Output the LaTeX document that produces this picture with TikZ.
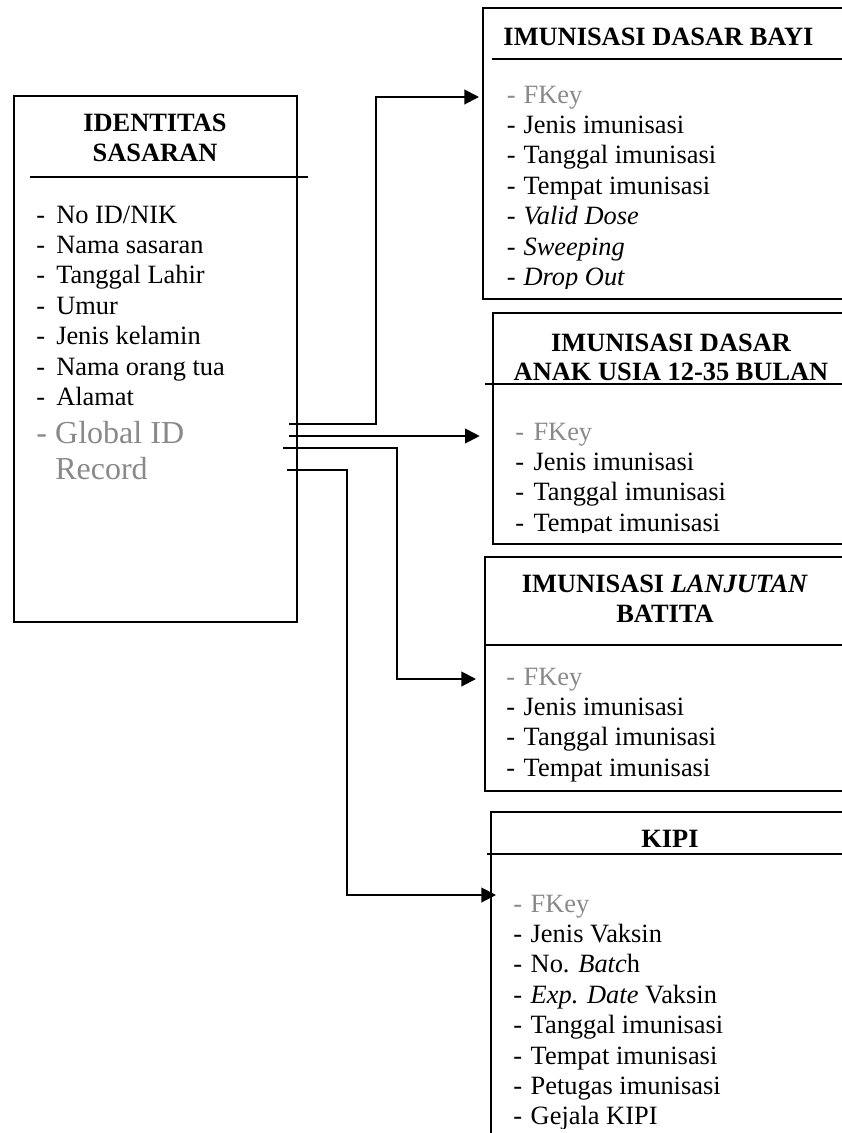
\documentclass[tikz,border=0pt]{standalone}
\usepackage{fontspec}
\setmainfont{Liberation Serif}
\usetikzlibrary{arrows.meta,fit}
\definecolor{keygray}{RGB}{137,137,137}
\newcommand\attr[2]{\makebox[#1][l]{-}#2}
\begin{document}
\begin{tikzpicture}[x=0.75pt,y=-0.75pt,
  box/.style={draw, line width=1.5pt, inner sep=0pt},
  rule/.style={line width=1.5pt},
  conn/.style={line width=1.5pt},
  arr/.style={-{Triangle[length=11pt,width=11pt]}},
  head/.style={font=\fontsize{19.8}{23}\selectfont\bfseries, anchor=base, inner sep=0pt},
  item/.style={font=\fontsize{19.8}{23}\selectfont, anchor=base west, inner sep=0pt},
  key/.style={item, text=keygray},
  big/.style={font=\fontsize{24}{28}\selectfont, anchor=base west, inner sep=0pt, text=keygray},
]
\useasboundingbox (0,0) rectangle (842,1133);
\clip (0,0) rectangle (842,1133);

% entity boxes
\node[box, fit={(14,95.7) (297,622)}] (ids) {};
\node[box, fit={(483,8.3) (870,299.3)}] (bayi) {};
\node[box, fit={(492.7,313.3) (870,544.3)}] (anak) {};
\node[box, fit={(485,557.3) (870,790.7)}] (lanjut) {};
\node[box, fit={(491,812.3) (870,1170)}] (kipi) {};

% header rules
\draw[rule] (30,176.5) -- (308,176.5);
\draw[rule] (491.7,59.3) -- (870,59.3);
\draw[rule] (485,384.3) -- (870,384.3);
\draw[rule] (485,645) -- (870,645);
\draw[rule] (487,854) -- (870,854);

% titles
\node[head] (h0a) at (155,131.5) {IDENTITAS};
\node[head] (h0b) at (155,161.5) {SASARAN};
\node[head] (h1) at (658.5,45) {IMUNISASI DASAR BAYI};
\node[head] (h2a) at (671,351) {IMUNISASI DASAR};
\node[head] (h2b) at (671,380) {ANAK USIA 12-35 BULAN};
\node[head] (h3a) at (665,592) {IMUNISASI \textit{LANJUTAN}};
\node[head] (h3b) at (665,622.4) {BATITA};
\node[head] (h4) at (670,847) {KIPI};

% IDENTITAS SASARAN attributes
\node[item] (a1) at (36,223) {\attr{15pt}{No ID/NIK}};
\node[item] (a2) at (36,253.4) {\attr{15pt}{Nama sasaran}};
\node[item] (a3) at (36,283.8) {\attr{15pt}{Tanggal Lahir}};
\node[item] (a4) at (36,314.2) {\attr{15pt}{Umur}};
\node[item] (a5) at (36,344.6) {\attr{15pt}{Jenis kelamin}};
\node[item] (a6) at (36,375) {\attr{15pt}{Nama orang tua}};
\node[item] (a7) at (36,405.4) {\attr{15pt}{Alamat}};
\node[big] (a8) at (36,443) {\attr{14.25pt}{Global ID}};
\node[big] (a9) at (55,479.5) {Record};

% IMUNISASI DASAR BAYI attributes
\begin{scope}
\clip (483,60) rectangle (870,288.5);
\node[key] (b1) at (506.7,103) {\attr{12.5pt}{FKey}};
\node[item] (b2) at (506.7,133.4) {\attr{12.5pt}{Jenis imunisasi}};
\node[item] (b3) at (506.7,163.8) {\attr{12.5pt}{Tanggal imunisasi}};
\node[item] (b4) at (506.7,194.2) {\attr{12.5pt}{Tempat imunisasi}};
\node[item] (b5) at (506.7,224.6) {\attr{12.5pt}{\textit{Valid Dose}}};
\node[item] (b6) at (506.7,255) {\attr{12.5pt}{\textit{Sweeping}}};
\node[item] (b7) at (506.7,285.4) {\attr{12.5pt}{\textit{Drop Out}}};
\end{scope}

% IMUNISASI DASAR ANAK USIA 12-35 BULAN attributes
\begin{scope}
\clip (485,385) rectangle (870,532.5);
\node[key] (c1) at (515,440) {\attr{13.7pt}{FKey}};
\node[item] (c2) at (515,470.4) {\attr{13.7pt}{Jenis imunisasi}};
\node[item] (c3) at (515,500.8) {\attr{13.7pt}{Tanggal imunisasi}};
\node[item] (c4) at (515,531.2) {\attr{13.7pt}{Tempat imunisasi}};
\end{scope}

% IMUNISASI LANJUTAN BATITA attributes
\node[key] (d1) at (506,685) {\attr{13.1pt}{FKey}};
\node[item] (d2) at (506,715.4) {\attr{13.1pt}{Jenis imunisasi}};
\node[item] (d3) at (506,745.8) {\attr{13.1pt}{Tanggal imunisasi}};
\node[item] (d4) at (506,776.2) {\attr{13.1pt}{Tempat imunisasi}};

% KIPI attributes
\begin{scope}
\clip (487,855) rectangle (870,1128);
\node[key] (e1) at (513,912) {\attr{13.1pt}{FKey}};
\node[item] (e2) at (513,942.4) {\attr{13.1pt}{Jenis Vaksin}};
\node[item] (e3) at (513,972.8) {\attr{13.1pt}{No. \textit{Batc}h}};
\node[item] (e4) at (513,1003.2) {\attr{13.1pt}{\textit{Exp. Date} Vaksin}};
\node[item] (e5) at (513,1033.6) {\attr{13.1pt}{Tanggal imunisasi}};
\node[item] (e6) at (513,1064) {\attr{13.1pt}{Tempat imunisasi}};
\node[item] (e7) at (513,1094.4) {\attr{13.1pt}{Petugas imunisasi}};
\node[item] (e8) at (513,1124.8) {\attr{13.1pt}{Gejala KIPI}};
\end{scope}

% relation stubs and bends
\coordinate (s1) at (289,424.3);
\coordinate (s2) at (289,436);
\coordinate (s3) at (283.3,447.7);
\coordinate (s4) at (287.3,470);
\coordinate (t1) at (376,97);
\coordinate (t3) at (397.3,679);
\coordinate (t4) at (346.7,895);

% connectors
\draw[conn, arr, shorten >=2.25pt] (s1) -| (t1) -- (t1 -| bayi.west);
\draw[conn, arr, shorten >=9pt] (s2) -- (s2 -| anak.west);
\draw[conn, arr, shorten >=6pt] (s3) -| (t3) -- (t3 -| lanjut.west);
\draw[conn, arr, shorten >=-4.5pt] (s4) -| (t4) -- (t4 -| kipi.west);
\end{tikzpicture}
\end{document}
